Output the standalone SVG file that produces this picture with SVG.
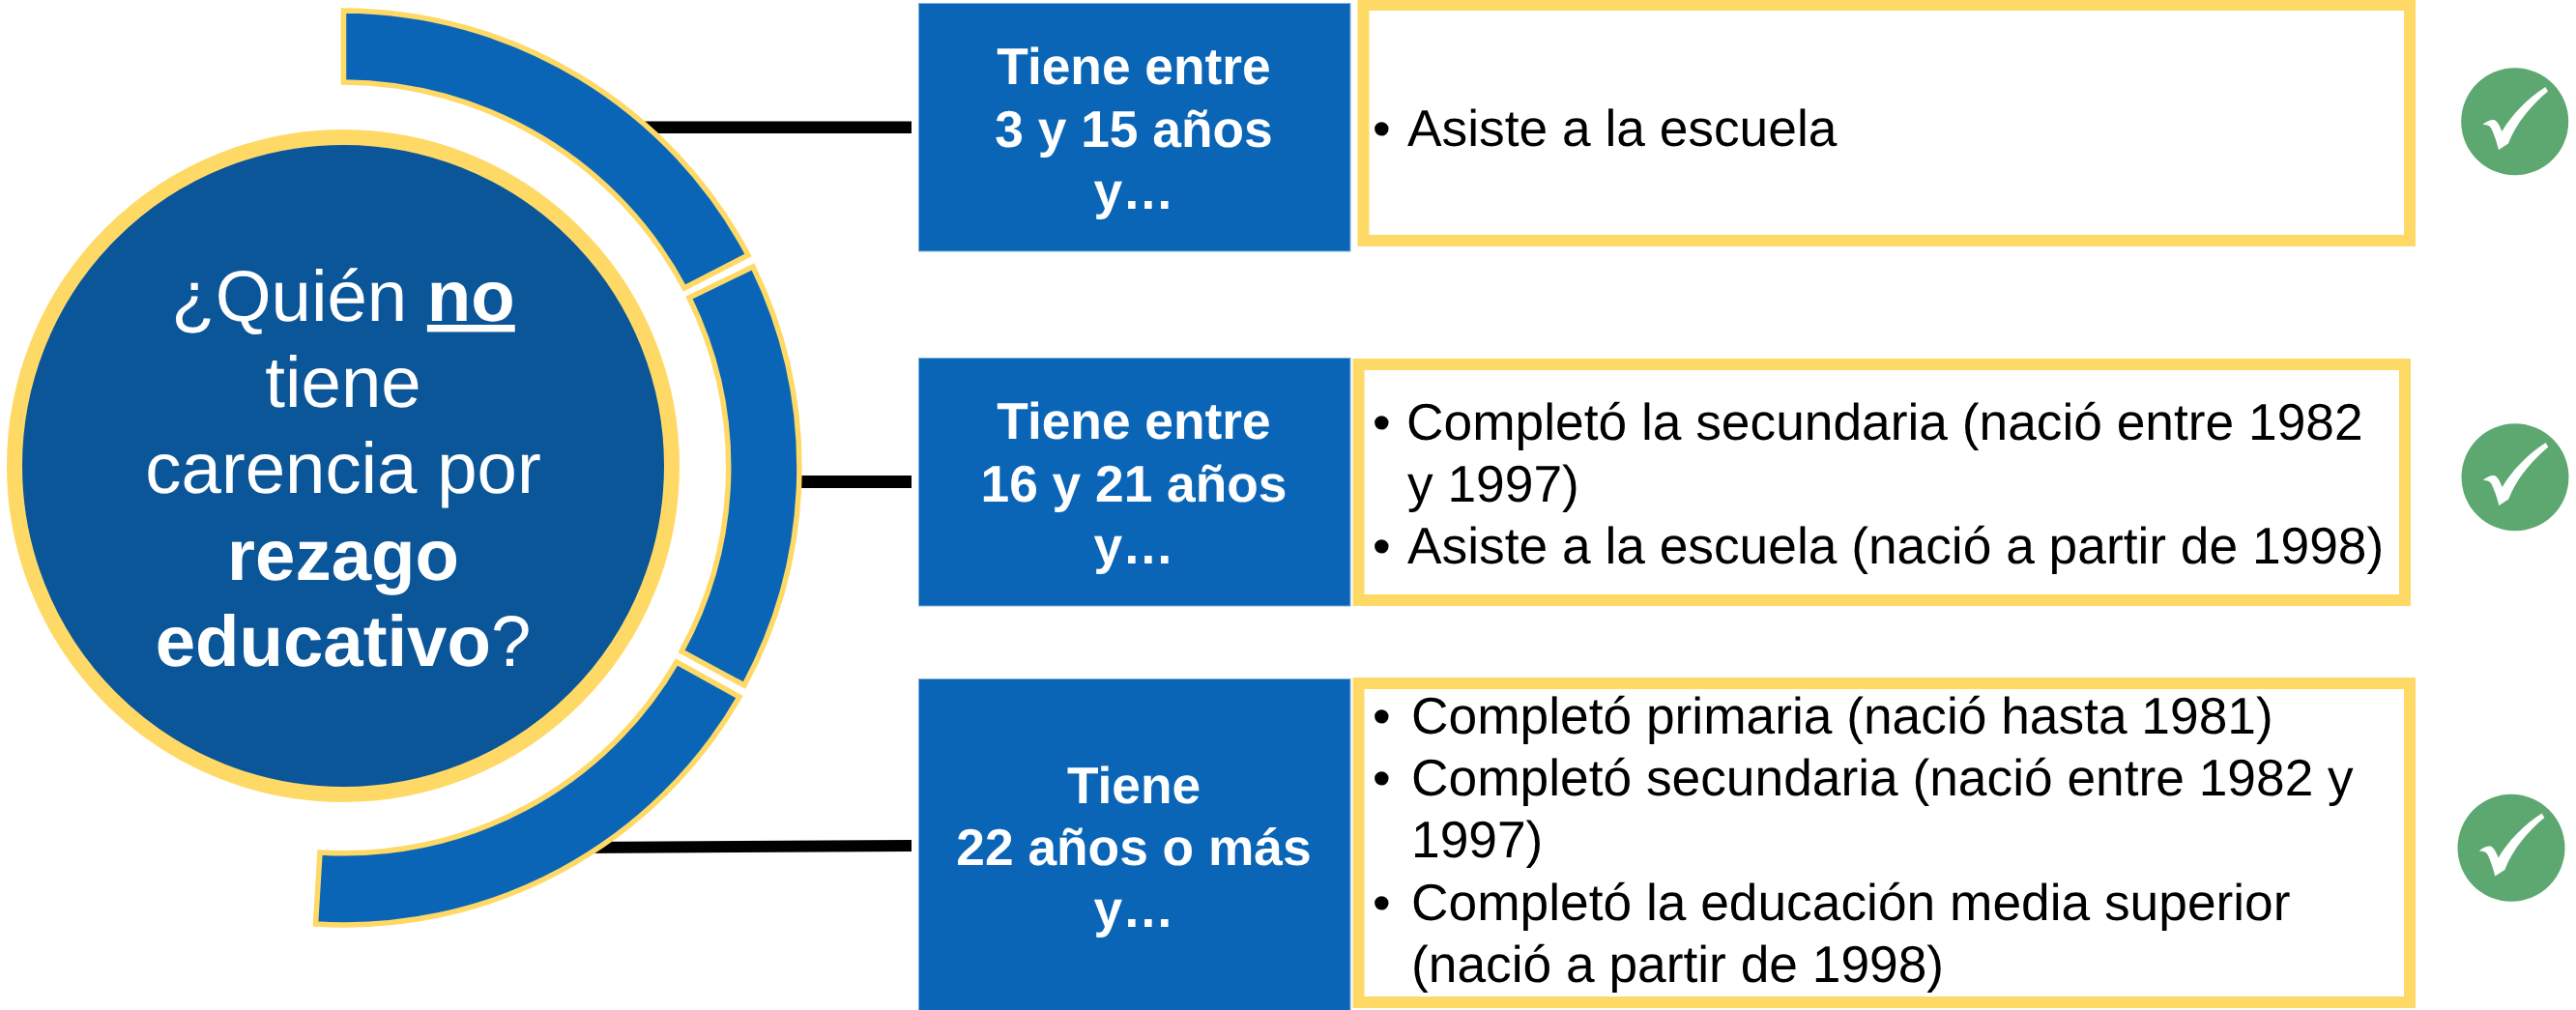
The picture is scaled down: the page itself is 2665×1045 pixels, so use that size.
<svg xmlns="http://www.w3.org/2000/svg" xmlns:xlink="http://www.w3.org/1999/xlink" width="2665" height="1045" viewBox="0 0 2665 1045">
<style>
text{font-family:"Liberation Sans",Arial,sans-serif;text-rendering:geometricPrecision}
.arc{fill:#0B65B7;stroke:#FFD966;stroke-width:5.5}
.blue{fill:#0B65B7;stroke:#7FB0DC;stroke-width:1}
.frame{fill:#fff;stroke:#FFD966;stroke-width:12}
.lab{font-size:53.3px;font-weight:700;fill:#fff;text-anchor:middle}
.body{font-size:53.3px;fill:#000}
.main{font-size:74.4px;fill:#fff;text-anchor:middle}
.ok{fill:#5CA870}
.tick{fill:#fff}
.conn{fill:#000}
</style>
<defs>
<g id="check">
<circle class="ok" r="55.5"/>
<path class="tick" d="M-33.3 3.3C-29 -0.5 -25 -2 -21.7 -1.7C-18 -1 -15.5 5 -13.3 10.3C-4 -6 14 -25 31.7 -35.7L34.3 -31.3C18 -18 1 2 -6.7 22.7L-16.7 29.3C-19 20 -22 12 -24.5 7C-26 4 -29 3 -33.3 3.3Z"/>
</g>
</defs>
<rect width="2665" height="1045" fill="#fff"/>
<g id="connectors">
<rect class="conn" x="660" y="125.5" width="283" height="12.5"/>
<rect class="conn" x="825" y="492" width="118" height="13"/>
<path class="conn" d="M600 871L943 869L943 881L600 883Z"/>
</g>
<g id="center">
<circle cx="355" cy="482" r="340" fill="#0B5599" stroke="#FFD966" stroke-width="16"/>
<text class="main"><tspan x="355" y="332">¿Quién <tspan font-weight="700" text-decoration="underline">no</tspan></tspan><tspan x="355" y="421">tiene</tspan><tspan x="355" y="510">carencia por</tspan><tspan x="355" y="600" font-weight="700">rezago</tspan><tspan x="355" y="689"><tspan font-weight="700">educativo</tspan>?</tspan></text>
</g>
<g id="arc-top"><path class="arc" d="M355.5 11A476 476 0 0 1 774 264L708 298A402 402 0 0 0 355.5 85Z"/></g>
<g id="arc-middle"><path class="arc" d="M779 276A474 474 0 0 1 770 709L705 674A398 398 0 0 0 713 308Z"/></g>
<g id="arc-bottom"><path class="arc" d="M700 685A397 397 0 0 1 331 882L326.5 956A471 471 0 0 0 765 721Z"/></g>
<g id="row-1">
<rect class="blue" x="950.5" y="3.5" width="446.5" height="256.5"/>
<text class="lab"><tspan x="1173" y="87">Tiene entre</tspan><tspan x="1173" y="152">3 y 15 años</tspan><tspan x="1173" y="216">y…</tspan></text>
<rect class="frame" x="1410.5" y="5" width="1082.5" height="244"/>
<text class="body"><tspan x="1420" y="151">•</tspan><tspan x="1456" y="151">Asiste a la escuela</tspan></text>
<use xlink:href="#check" href="#check" x="2601.7" y="125.7"/>
</g>
<g id="row-2">
<rect class="blue" x="950.5" y="370.5" width="446.5" height="256.5"/>
<text class="lab"><tspan x="1173" y="454">Tiene entre</tspan><tspan x="1173" y="519">16 y 21 años</tspan><tspan x="1173" y="583">y…</tspan></text>
<rect class="frame" x="1405.5" y="377" width="1082.5" height="244"/>
<text class="body"><tspan x="1420" y="455">•</tspan><tspan x="1455" y="455">Completó la secundaria (nació entre 1982</tspan><tspan x="1456" y="519">y 1997)</tspan><tspan x="1420" y="583">•</tspan><tspan x="1456" y="583">Asiste a la escuela (nació a partir de 1998)</tspan></text>
<use xlink:href="#check" href="#check" x="2602" y="493.7"/>
</g>
<g id="row-3">
<rect class="blue" x="950.5" y="702.5" width="446.5" height="343"/>
<text class="lab"><tspan x="1173" y="831">Tiene</tspan><tspan x="1173" y="895">22 años o más</tspan><tspan x="1173" y="959">y…</tspan></text>
<rect class="frame" x="1405.5" y="707" width="1087.5" height="330"/>
<text class="body"><tspan x="1420" y="759">•</tspan><tspan x="1460" y="759">Completó primaria (nació hasta 1981)</tspan><tspan x="1420" y="823">•</tspan><tspan x="1460" y="823">Completó secundaria (nació entre 1982 y</tspan><tspan x="1460" y="887">1997)</tspan><tspan x="1420" y="952">•</tspan><tspan x="1460" y="952">Completó la educación media superior</tspan><tspan x="1460" y="1016">(nació a partir de 1998)</tspan></text>
<use xlink:href="#check" href="#check" x="2598" y="877.3"/>
</g>
</svg>
